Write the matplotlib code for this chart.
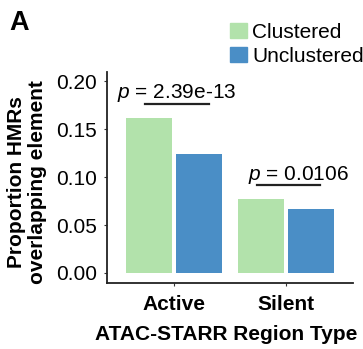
import numpy as np
import matplotlib.pyplot as plt
from matplotlib.patches import Patch

plt.rcParams["font.family"] = ["Liberation Sans", "DejaVu Sans"]
plt.rcParams["mathtext.fontset"] = "custom"
plt.rcParams["mathtext.it"] = "Liberation Sans:italic"

groups = ["Active", "Silent"]
series = ["Clustered", "Unclustered"]
clustered = [0.162, 0.077]
unclustered = [0.1247, 0.0667]
pvals = ["2.39e-13", "0.0106"]
colors = ["#b2e2ab", "#4a8ec6"]

fs = 15

fig = plt.figure(figsize=(3.63, 3.49), dpi=100)
ax = fig.add_axes([0.295, 0.189, 0.677, 0.605])

x = np.arange(1, len(groups) + 1)
w = 0.41
ax.bar(x - 0.225, clustered, width=w, color=colors[0])
ax.bar(x + 0.225, unclustered, width=w, color=colors[1])

# significance labels
for xi, c, u, p in zip(x, clustered, unclustered, pvals):
    top = max(c, u) + 0.0145
    ax.plot([xi - 0.26, xi + 0.31], [top, top], color="#222222", lw=1.6)
    ax.text(xi + 0.56, top + 0.006, f"$p$ = {p}", ha="right", va="baseline",
            fontsize=fs)

ax.set_xlim(0.4, 2.6)
ax.set_ylim(-0.0105, 0.21)
ax.set_yticks([0, 0.05, 0.10, 0.15, 0.20])
ax.set_yticklabels(["0.00", "0.05", "0.10", "0.15", "0.20"], fontsize=fs)
ax.set_xticks(x)
ax.set_xticklabels(groups, fontsize=fs, fontweight="bold")
ax.tick_params(axis="both", length=2.5, width=0.8, color="#333333")
ax.tick_params(axis="y", pad=5)
ax.tick_params(axis="x", pad=6)
for s in ["top", "right"]:
    ax.spines[s].set_visible(False)
for s in ["left", "bottom"]:
    ax.spines[s].set_linewidth(1.3)
    ax.spines[s].set_color("#222222")

ax.set_xlabel("ATAC-STARR Region Type", fontsize=fs, fontweight="bold", labelpad=8)
ax.xaxis.label.set_x(0.485)
ax.set_ylabel("Proportion HMRs\noverlapping element", fontsize=fs,
              fontweight="bold", linespacing=1.15, labelpad=6)
ax.yaxis.label.set_y(0.48)

handles = [Patch(color=colors[0]), Patch(color=colors[1])]
fig.legend(handles, series, loc="upper left", bbox_to_anchor=(0.634, 0.935),
           frameon=False, fontsize=fs, handlelength=0.8, handleheight=0.72,
           handletextpad=0.25, labelspacing=0.25, borderpad=0, borderaxespad=0)

fig.text(0.025, 0.97, "A", fontsize=19.5, fontweight="bold", va="top")

fig.savefig("out.png", dpi=100)
